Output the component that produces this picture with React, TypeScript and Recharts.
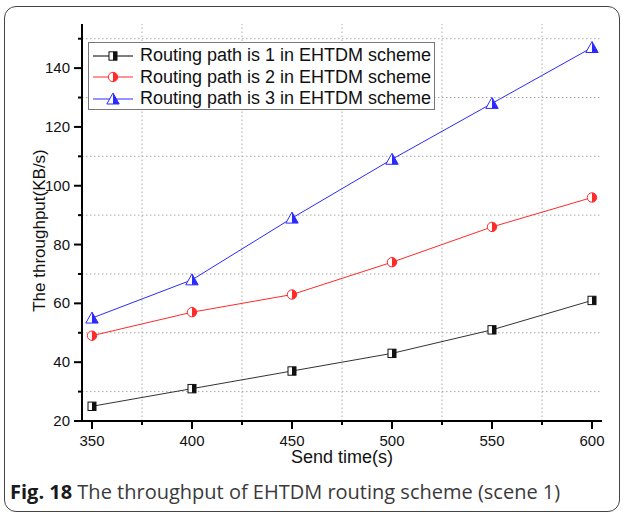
import { LineChart, Line, XAxis, YAxis, ReferenceLine, Legend } from "recharts"

const sendTimes = [350, 400, 450, 500, 550, 600]
const path1 = [25, 31, 37, 43, 51, 61]
const path2 = [49, 57, 63, 74, 86, 96]
const path3 = [55, 68, 89, 109, 128, 147]

const seriesNames = [
  "Routing path is 1 in EHTDM scheme",
  "Routing path is 2 in EHTDM scheme",
  "Routing path is 3 in EHTDM scheme",
]

const xTicks = [350, 375, 400, 425, 450, 475, 500, 525, 550, 575, 600]
const xMajor = [350, 400, 450, 500, 550, 600]
const xGrid = [375, 425, 475, 525, 575]
const yTicks = [20, 30, 40, 50, 60, 70, 80, 90, 100, 110, 120, 130, 140, 150]
const yGrid = [30, 50, 70, 90, 110, 130, 150]

const data = sendTimes.map((t, i) => ({ t, p1: path1[i], p2: path2[i], p3: path3[i] }))

const FONT = "'Liberation Sans', Arial, sans-serif"
const BLACK = "#333"
const RED = "#ff2a2a"
const BLUE = "#2a2aff"

function SquareMark({ cx, cy }: { cx: number; cy: number }) {
  return (
    <g>
      <rect x={cx - 4} y={cy - 4.2} width={8} height={8.4} fill="#fff" stroke="#111" strokeWidth={1} />
      <rect x={cx} y={cy - 4.2} width={4} height={8.4} fill="#111" />
    </g>
  )
}

function CircleMark({ cx, cy }: { cx: number; cy: number }) {
  const r = 4.7
  return (
    <g>
      <circle cx={cx} cy={cy} r={r} fill="#fff" stroke={RED} strokeWidth={1} />
      <path d={`M${cx},${cy - r} A${r},${r} 0 0 1 ${cx},${cy + r} Z`} fill={RED} />
    </g>
  )
}

function TriangleMark({ cx, cy }: { cx: number; cy: number }) {
  return (
    <g>
      <polygon points={`${cx},${cy - 6} ${cx + 6.2},${cy + 5} ${cx - 6.2},${cy + 5}`} fill="#fff" stroke={BLUE} strokeWidth={1} />
      <polygon points={`${cx},${cy - 6} ${cx + 6.2},${cy + 5} ${cx},${cy + 5}`} fill={BLUE} />
    </g>
  )
}

const markers = [SquareMark, CircleMark, TriangleMark]
const colors = [BLACK, RED, BLUE]

const dotFor = (k: number) => (props: any) => {
  const Mark = markers[k]
  if (props.cx == null || props.cy == null) return <g key={`d-${k}-${props.index}`} />
  return (
    <g key={`d-${k}-${props.index}`}>
      <Mark cx={props.cx} cy={props.cy} />
    </g>
  )
}

function XTick(props: any) {
  const { x, y, payload } = props
  const major = xMajor.includes(payload.value)
  return (
    <g>
      <line x1={x} x2={x} y1={y} y2={y + (major ? 8 : 4)} stroke="#000" strokeWidth={2} />
      {major && (
        <text x={x} y={y + 25} textAnchor="middle" fontSize={15} fill="#111" fontFamily={FONT}>
          {payload.value}
        </text>
      )}
    </g>
  )
}

function YTick(props: any) {
  const { x, y, payload } = props
  const major = payload.value % 20 === 0
  return (
    <g>
      <line x1={x} x2={x - (major ? 8 : 4)} y1={y} y2={y} stroke="#000" strokeWidth={2} />
      {major && (
        <text x={x - 12} y={y + 5} textAnchor="end" fontSize={15} fill="#111" fontFamily={FONT}>
          {payload.value}
        </text>
      )}
    </g>
  )
}

function LegendBox() {
  return (
    <div
      style={{
        width: 347,
        height: 68,
        boxSizing: "border-box",
        border: "1px solid #777",
        background: "#fff",
        paddingTop: 2,
        fontFamily: FONT,
      }}
    >
      {seriesNames.map((name, k) => {
        const Mark = markers[k]
        return (
          <div key={name} style={{ display: "flex", alignItems: "center", height: 21.5 }}>
            <svg width={50} height={20} style={{ flex: "none" }}>
              <line x1={4} x2={44} y1={10} y2={10} stroke={colors[k] === BLACK ? "#000" : colors[k]} strokeWidth={1} />
              <Mark cx={24} cy={10} />
            </svg>
            <span style={{ fontSize: 18, color: "#111", marginLeft: 1, whiteSpace: "nowrap" }}>{name}</span>
          </div>
        )
      })}
    </div>
  )
}

export default function App() {
  return (
    <div style={{ position: "absolute", left: 0, top: 0, width: 624, height: 516, background: "#fff" }}>
      <div
        style={{
          position: "absolute",
          left: 4,
          top: 6,
          width: 616,
          height: 506,
          boxSizing: "border-box",
          border: "1.5px solid #444",
          borderRadius: 12,
        }}
      />
      <div style={{ position: "absolute", left: 0, top: 0 }}>
        <LineChart
          width={624}
          height={516}
          data={data}
          margin={{ top: 24, right: 22, left: 22, bottom: 45 }}
          style={{ fontFamily: FONT }}
        >
          {xGrid.map((v) => (
            <ReferenceLine key={`gx${v}`} x={v} stroke="#aaa" strokeDasharray="1.5 2.5" strokeWidth={1} />
          ))}
          {yGrid.map((v) => (
            <ReferenceLine key={`gy${v}`} y={v} stroke="#aaa" strokeDasharray="1.5 2.5" strokeWidth={1} />
          ))}
          <XAxis
            dataKey="t"
            type="number"
            domain={[345, 605]}
            ticks={xTicks}
            interval={0}
            height={50}
            tickSize={0}
            tickMargin={0}
            tickLine={false}
            tick={<XTick />}
            axisLine={{ stroke: "#000", strokeWidth: 2 }}
            allowDataOverflow
            label={{
              content: ({ viewBox }: any) => (
                <text
                  x={viewBox.x + viewBox.width / 2}
                  y={viewBox.y + 42}
                  textAnchor="middle"
                  fontSize={18}
                  fill="#111"
                  fontFamily={FONT}
                >
                  Send time(s)
                </text>
              ),
            }}
          />
          <XAxis
            xAxisId="top"
            orientation="top"
            type="number"
            domain={[345, 605]}
            ticks={xMajor}
            interval={0}
            mirror
            height={0}
            tickSize={7}
            tickFormatter={() => ""}
            tickLine={{ stroke: "#000", strokeWidth: 2 }}
            axisLine={{ stroke: "#000", strokeWidth: 2 }}
            allowDataOverflow
          />
          <YAxis
            type="number"
            domain={[20, 155]}
            ticks={yTicks}
            interval={0}
            width={60}
            tickSize={0}
            tickMargin={0}
            tickLine={false}
            tick={<YTick />}
            axisLine={{ stroke: "#000", strokeWidth: 2 }}
            allowDataOverflow
            label={{
              content: ({ viewBox }: any) => {
                const lx = viewBox.x + 23
                const ly = viewBox.y + viewBox.height / 2 + 8
                return (
                  <text
                    x={lx}
                    y={ly}
                    transform={`rotate(-90 ${lx} ${ly})`}
                    textAnchor="middle"
                    fontSize={17}
                    fill="#111"
                    fontFamily={FONT}
                  >
                    The throughput(KB/s)
                  </text>
                )
              },
            }}
          />
          <YAxis
            yAxisId="right"
            orientation="right"
            type="number"
            domain={[20, 155]}
            ticks={yTicks}
            interval={0}
            mirror
            width={0}
            tickSize={7}
            tickFormatter={() => ""}
            tickLine={{ stroke: "#000", strokeWidth: 2 }}
            axisLine={{ stroke: "#000", strokeWidth: 2 }}
            allowDataOverflow
          />
          <Legend
            layout="vertical"
            align="center"
            verticalAlign="middle"
            wrapperStyle={{ left: 88, top: 42, width: 347 }}
            content={() => <LegendBox />}
          />
          <Line dataKey="p1" name={seriesNames[0]} stroke={BLACK} strokeWidth={1} dot={dotFor(0)} isAnimationActive={false} />
          <Line dataKey="p2" name={seriesNames[1]} stroke={RED} strokeWidth={1} dot={dotFor(1)} isAnimationActive={false} />
          <Line dataKey="p3" name={seriesNames[2]} stroke={BLUE} strokeWidth={1} dot={dotFor(2)} isAnimationActive={false} />
        </LineChart>
      </div>
      <div
        style={{
          position: "absolute",
          left: 10,
          top: 480,
          fontSize: 20,
          lineHeight: "24px",
          fontFamily: "'Open Sans', 'Noto Sans', sans-serif",
          color: "#3a3a3a",
          whiteSpace: "nowrap",
        }}
      >
        <span style={{ fontWeight: 700, color: "#1a1a1a" }}>Fig. 18</span> The throughput of EHTDM routing scheme (scene 1)
      </div>
    </div>
  )
}
